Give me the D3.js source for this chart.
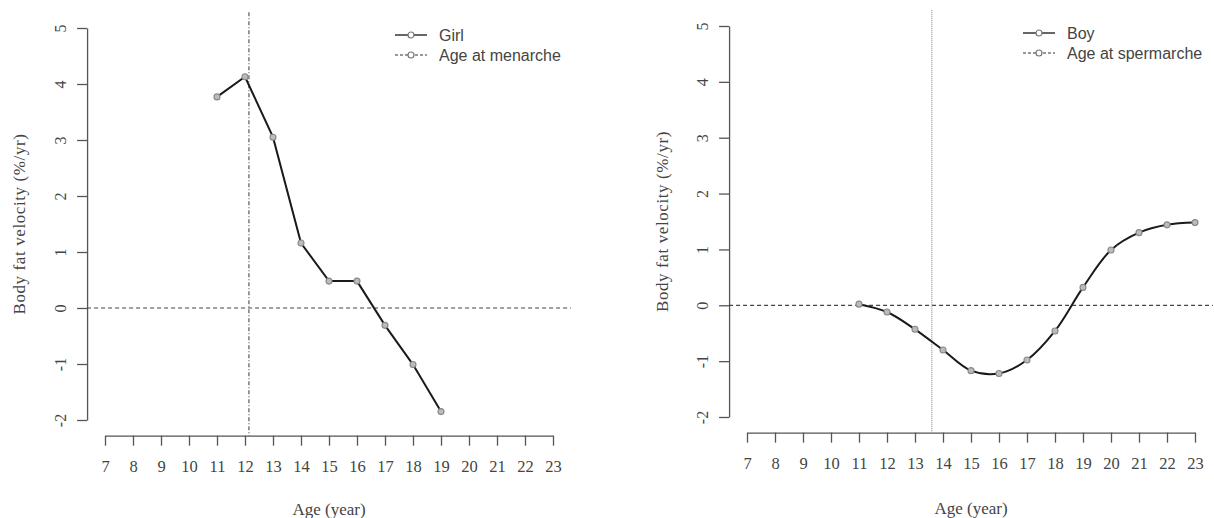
<!DOCTYPE html>
<html>
<head>
<meta charset="utf-8">
<script src="https://cdn.jsdelivr.net/npm/d3@7"></script>
<style>
  body { margin: 0; background: #fff; }
  svg { display: block; }
</style>
</head>
<body>
<svg id="chart" width="1214" height="518"></svg>
<script>
// data
const ages = [7, 8, 9, 10, 11, 12, 13, 14, 15, 16, 17, 18, 19, 20, 21, 22, 23];
const yTicks = [-2, -1, 0, 1, 2, 3, 4, 5];

const girlAges = [11, 12, 13, 14, 15, 16, 17, 18, 19];
const girlVelocity = [3.77, 4.13, 3.05, 1.16, 0.48, 0.48, -0.31, -1.01, -1.85];
const ageAtMenarche = 12.14;

const boyAges = [11, 12, 13, 14, 15, 16, 17, 18, 19, 20, 21, 22, 23];
const boyVelocity = [0.02, -0.12, -0.43, -0.8, -1.17, -1.22, -0.98, -0.46, 0.32, 0.99, 1.3, 1.44, 1.48];
const ageAtSpermarche = 13.6;

const svg = d3.select('#chart');
const serif = '"Liberation Serif", "Times New Roman", serif';
const sans = '"Liberation Sans", Arial, sans-serif';

function drawPanel(p) {
  const x = d3.scaleLinear().domain([7, 23]).range([p.x0, p.x1]);
  const y = d3.scaleLinear().domain([-2, 5]).range([p.y0, p.y1]);

  // R style 4% padding of plot region
  const xlo = x(7 - 0.64), xhi = x(23 + 0.64);
  const ylo = y(-2 - 0.28), yhi = y(5 + 0.28);

  const g = svg.append('g');

  // y axis (plain hyphen for negatives, like R)
  const yAxis = d3.axisLeft(y).tickValues(yTicks).tickSize(10).tickSizeOuter(0).tickFormat(d => String(d));
  const ya = g.append('g').attr('transform', `translate(${xlo},0)`).call(yAxis);
  ya.attr('font-family', null).attr('font-size', null);
  ya.select('.domain').attr('stroke', '#555').attr('stroke-width', 1.3);
  ya.selectAll('.tick line').attr('stroke', '#555').attr('stroke-width', 1.3);
  ya.selectAll('.tick text')
    .attr('x', 0).attr('y', 0).attr('dy', 0)
    .attr('transform', 'translate(-27,0) rotate(-90)')
    .attr('text-anchor', 'middle')
    .attr('dominant-baseline', 'central')
    .style('font-family', serif).style('font-size', '16px').attr('fill', '#444');

  // x axis
  const xAxis = d3.axisBottom(x).tickValues(ages).tickSize(10).tickSizeOuter(0).tickFormat(d => String(d));
  const xa = g.append('g').attr('transform', `translate(0,${ylo})`).call(xAxis);
  xa.attr('font-family', null).attr('font-size', null);
  xa.select('.domain').attr('stroke', '#555').attr('stroke-width', 1.3);
  xa.selectAll('.tick line').attr('stroke', '#555').attr('stroke-width', 1.3);
  xa.selectAll('.tick text').attr('y', 25)
    .style('font-family', serif).style('font-size', '16.5px').attr('fill', '#444');

  // axis titles
  g.append('text')
    .attr('transform', `translate(${p.yLabelX},${(y(5) + y(-2)) / 2}) rotate(-90)`)
    .attr('text-anchor', 'middle').attr('dominant-baseline', 'central')
    .style('font-family', serif).style('font-size', '17px').style('letter-spacing', '0.6px').attr('fill', '#444')
    .text('Body fat velocity (%/yr)');
  g.append('text')
    .attr('x', (x(7) + x(23)) / 2).attr('y', p.xLabelY)
    .attr('text-anchor', 'middle').attr('dominant-baseline', 'central')
    .style('font-family', serif).style('font-size', '17px').attr('fill', '#444')
    .text('Age (year)');

  // reference lines
  g.append('line')
    .attr('x1', xlo).attr('x2', xhi).attr('y1', y(0)).attr('y2', y(0))
    .attr('stroke', '#444').attr('stroke-width', 1.2).attr('stroke-dasharray', '4,3');
  g.append('line')
    .attr('x1', x(p.marker)).attr('x2', x(p.marker)).attr('y1', yhi).attr('y2', ylo)
    .attr('stroke', p.vColor).attr('stroke-width', 1.3).attr('stroke-dasharray', p.vDash);

  // series
  const pts = p.ages.map((a, i) => [a, p.values[i]]);
  g.append('path')
    .datum(pts)
    .attr('fill', 'none').attr('stroke', '#1a1a1a').attr('stroke-width', 2)
    .attr('d', d3.line().x(d => x(d[0])).y(d => y(d[1])).curve(p.curve));
  g.selectAll('.pt')
    .data(pts)
    .enter()
    .append('circle')
    .attr('class', 'pt')
    .attr('cx', d => x(d[0])).attr('cy', d => y(d[1])).attr('r', 3)
    .attr('fill', '#bbb').attr('stroke', '#888').attr('stroke-width', 1.1);

  // legend
  const lg = g.append('g').attr('transform', `translate(${p.legX},${p.legY})`);
  const rows = [
    { text: p.seriesName, dash: null, color: '#333' },
    { text: p.markerName, dash: '3,2', color: '#777' }
  ];
  rows.forEach((r, i) => {
    const ry = i * 20;
    lg.append('line').attr('x1', 0).attr('x2', 32).attr('y1', ry).attr('y2', ry)
      .attr('stroke', r.color).attr('stroke-width', 1.5).attr('stroke-dasharray', r.dash);
    lg.append('circle').attr('cx', 16).attr('cy', ry).attr('r', 3)
      .attr('fill', '#fff').attr('stroke', '#777').attr('stroke-width', 1.2);
    lg.append('text').attr('x', 44).attr('y', ry).attr('dominant-baseline', 'central')
      .style('font-family', sans).style('font-size', '16px').attr('fill', '#444')
      .text(r.text);
  });
}

drawPanel({
  x0: 105, x1: 553, y0: 420, y1: 28,
  ages: girlAges, values: girlVelocity, curve: d3.curveLinear,
  marker: ageAtMenarche, vColor: '#666', vDash: '4,2,1,2',
  seriesName: 'Girl', markerName: 'Age at menarche',
  yLabelX: 19, xLabelY: 509, legX: 395, legY: 35
});

drawPanel({
  x0: 747, x1: 1195, y0: 417, y1: 26,
  ages: boyAges, values: boyVelocity, curve: d3.curveCatmullRom,
  marker: ageAtSpermarche, vColor: '#999', vDash: '1,1',
  seriesName: 'Boy', markerName: 'Age at spermarche',
  yLabelX: 662, xLabelY: 508, legX: 1023, legY: 33
});
</script>
</body>
</html>
